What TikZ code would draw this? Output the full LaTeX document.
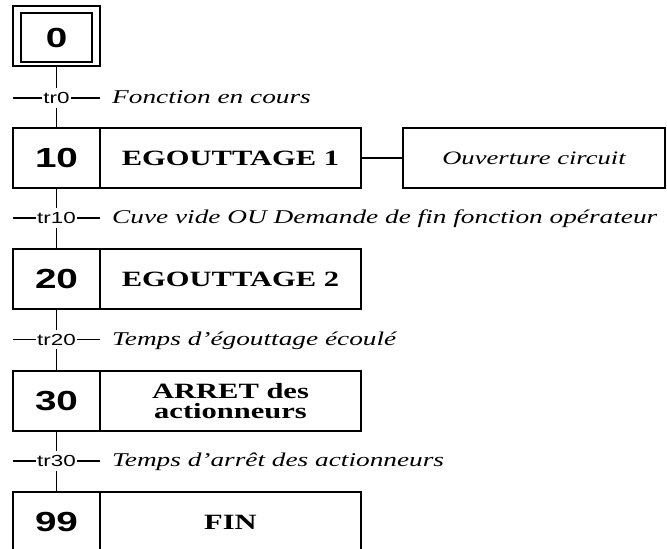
\documentclass[tikz,border=0pt]{standalone}
\usepackage{fontspec}
\newfontfamily\numfont[FakeStretch=1.4]{Liberation Sans}
\newfontfamily\serifwide[FakeStretch=1.4]{Liberation Serif}
\begin{document}
\begin{tikzpicture}[x=1pt,y=-1pt,
  box/.style={draw,line width=1.8pt,inner sep=0pt,minimum height=60pt,anchor=center},
  numcell/.style={box,minimum width=87pt,font=\numfont\bfseries\fontsize{27.6}{30}\selectfont},
  actcell/.style={box,minimum width=261pt,align=center,
    font=\serifwide\bfseries\fontsize{21.8}{20}\selectfont},
  link/.style={line width=1.8pt},
  trline/.style={line width=1.5pt},
  trlabel/.style={fill=white,inner xsep=1pt,inner ysep=4pt,
    font=\numfont\fontsize{16}{18}\selectfont},
  cond/.style={anchor=base west,inner sep=0pt,
    font=\serifwide\itshape\fontsize{19.5}{22}\selectfont}
]
\useasboundingbox (0,0) rectangle (667,549);
\clip (0,0) rectangle (667,549);

% initial step: double frame
\node[draw,line width=1.2pt,minimum width=87pt,minimum height=60pt,inner sep=0pt] (s0) at (56.5,36) {};
\node[draw,line width=1.2pt,minimum width=71pt,minimum height=49pt,inner sep=0pt,
  font=\numfont\bfseries\fontsize{27.6}{30}\selectfont] (s0in) at (56.5,37.5) {0};

% steps
\node[numcell] (n10) at (56.5,158) {10};
\node[actcell] (a10) at (230.5,158) {EGOUTTAGE 1};
\node[box,minimum width=262pt,font=\serifwide\itshape\fontsize{19}{22}\selectfont] (act) at (534,158) {Ouverture circuit};

\node[numcell] (n20) at (56.5,279) {20};
\node[actcell] (a20) at (230.5,279) {EGOUTTAGE 2};

\node[numcell] (n30) at (56.5,401) {30};
\node[actcell] (a30) at (230.5,401) {ARRET des\\actionneurs};

\node[numcell] (n99) at (56.5,522) {99};
\node[actcell] (a99) at (230.5,522) {FIN};

% action link
\draw[link] (a10.east) -- (act.west);

% links between steps
\draw[link] (s0.south) -- (n10.north);
\draw[link] (n10.south) -- (n20.north);
\draw[link] (n20.south) -- (n30.north);
\draw[link] (n30.south) -- (n99.north);

% transitions
\coordinate (t0) at (56.5,98);
\coordinate (t10) at (56.5,218);
\coordinate (t20) at (56.5,339.5);
\coordinate (t30) at (56.5,461);
\foreach \t in {t0,t10,t20,t30}{
  \draw[trline] (\t) ++(-43.5,0) -- ++(87,0);
}
\node[trlabel] (l0) at (t0) {tr0};
\node[trlabel] (l10) at (t10) {tr10};
\node[trlabel] (l20) at (t20) {tr20};
\node[trlabel] (l30) at (t30) {tr30};

% receptivities
\node[cond] (c0) at (112,103.5) {Fonction en cours};
\node[cond] (c10) at (112,223.5) {Cuve vide OU Demande de fin fonction opérateur};
\node[cond] (c20) at (112,345) {Temps d’égouttage écoulé};
\node[cond] (c30) at (112,466.5) {Temps d’arrêt des actionneurs};
\end{tikzpicture}
\end{document}
